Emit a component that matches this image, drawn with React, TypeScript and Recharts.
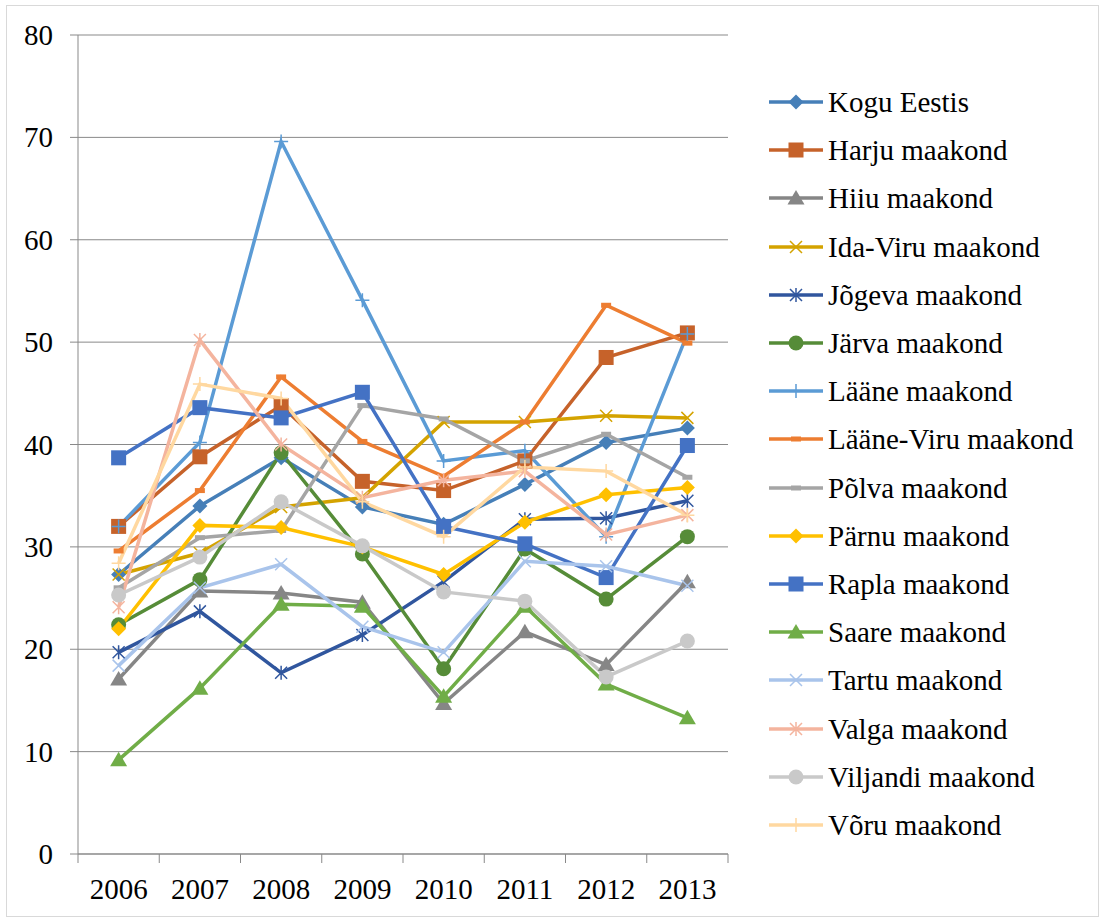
import React from 'react';
import { LineChart, Line, XAxis, YAxis, CartesianGrid } from 'recharts';

const years = ['2006', '2007', '2008', '2009', '2010', '2011', '2012', '2013'];
const yTicks = [0, 10, 20, 30, 40, 50, 60, 70, 80];

const koguEestis = [27.3, 34.0, 38.7, 33.9, 32.2, 36.1, 40.2, 41.6];
const harju = [32.0, 38.8, 43.8, 36.4, 35.5, 38.4, 48.5, 50.9];
const hiiu = [17.1, 25.7, 25.5, 24.6, 14.7, 21.7, 18.5, 26.6];
const idaViru = [27.3, 29.4, 33.9, 34.8, 42.2, 42.2, 42.8, 42.6];
const jogeva = [19.7, 23.7, 17.7, 21.4, 26.6, 32.7, 32.8, 34.5];
const jarva = [22.4, 26.8, 39.2, 29.3, 18.1, 29.8, 24.9, 31.0];
const laane = [32.0, 40.2, 69.6, 54.1, 38.4, 39.4, 31.0, 50.8];
const laaneViru = [29.6, 35.5, 46.6, 40.3, 36.9, 42.2, 53.6, 49.9];
const polva = [26.0, 30.9, 31.6, 43.8, 42.5, 38.4, 41.0, 36.8];
const parnu = [22.0, 32.1, 31.9, 30.0, 27.3, 32.4, 35.1, 35.8];
const rapla = [38.7, 43.6, 42.6, 45.1, 32.0, 30.3, 27.0, 39.9];
const saare = [9.2, 16.2, 24.4, 24.2, 15.4, 24.2, 16.6, 13.3];
const tartu = [18.4, 26.0, 28.3, 22.2, 19.7, 28.6, 28.1, 26.2];
const valga = [24.1, 50.2, 40.0, 34.8, 36.5, 37.4, 31.2, 33.1];
const viljandi = [25.3, 29.0, 34.4, 30.1, 25.6, 24.7, 17.3, 20.8];
const voru = [28.4, 45.9, 44.5, 34.4, 31.0, 37.8, 37.4, 33.1];

type Shape = 'diamond' | 'square' | 'triangle' | 'x' | 'star' | 'circle' | 'plus' | 'dash';

const series: { name: string; values: number[]; color: string; shape: Shape }[] = [
  { name: 'Kogu Eestis', values: koguEestis, color: '#467fb8', shape: 'diamond' },
  { name: 'Harju maakond', values: harju, color: '#c6622a', shape: 'square' },
  { name: 'Hiiu maakond', values: hiiu, color: '#868686', shape: 'triangle' },
  { name: 'Ida-Viru maakond', values: idaViru, color: '#d4a300', shape: 'x' },
  { name: 'Jõgeva maakond', values: jogeva, color: '#30569e', shape: 'star' },
  { name: 'Järva maakond', values: jarva, color: '#568c38', shape: 'circle' },
  { name: 'Lääne maakond', values: laane, color: '#5b9bd5', shape: 'plus' },
  { name: 'Lääne-Viru maakond', values: laaneViru, color: '#ed7d31', shape: 'dash' },
  { name: 'Põlva maakond', values: polva, color: '#a5a5a5', shape: 'dash' },
  { name: 'Pärnu maakond', values: parnu, color: '#ffc000', shape: 'diamond' },
  { name: 'Rapla maakond', values: rapla, color: '#4472c4', shape: 'square' },
  { name: 'Saare maakond', values: saare, color: '#70ad47', shape: 'triangle' },
  { name: 'Tartu maakond', values: tartu, color: '#a9c4eb', shape: 'x' },
  { name: 'Valga maakond', values: valga, color: '#f4b49e', shape: 'star' },
  { name: 'Viljandi maakond', values: viljandi, color: '#c9c9c9', shape: 'circle' },
  { name: 'Võru maakond', values: voru, color: '#ffd8a0', shape: 'plus' },
];

const data = years.map((year, i) => {
  const row: Record<string, string | number> = { year };
  series.forEach((s) => {
    row[s.name] = s.values[i];
  });
  return row;
});

const FONT = 'Liberation Serif';
const AXIS = '#898989';
const HALF_BAND = 650 / 16;

function Marker({ shape, color, cx, cy }: { shape: Shape; color: string; cx: number; cy: number }) {
  switch (shape) {
    case 'diamond':
      return <path d={`M${cx},${cy - 7.5}L${cx + 7.5},${cy}L${cx},${cy + 7.5}L${cx - 7.5},${cy}Z`} fill={color} />;
    case 'square':
      return <rect x={cx - 7.5} y={cy - 7.5} width={15} height={15} fill={color} />;
    case 'triangle':
      return <path d={`M${cx},${cy - 8}L${cx + 8.5},${cy + 6.5}L${cx - 8.5},${cy + 6.5}Z`} fill={color} />;
    case 'circle':
      return <circle cx={cx} cy={cy} r={7.5} fill={color} />;
    case 'x':
      return (
        <path d={`M${cx - 6},${cy - 6}L${cx + 6},${cy + 6}M${cx - 6},${cy + 6}L${cx + 6},${cy - 6}`} stroke={color} strokeWidth={1.5} fill="none" />
      );
    case 'star':
      return (
        <path
          d={`M${cx - 6},${cy - 6}L${cx + 6},${cy + 6}M${cx - 6},${cy + 6}L${cx + 6},${cy - 6}M${cx},${cy - 7}L${cx},${cy + 7}`}
          stroke={color}
          strokeWidth={1.5}
          fill="none"
        />
      );
    case 'plus':
      return <path d={`M${cx - 7},${cy}L${cx + 7},${cy}M${cx},${cy - 7}L${cx},${cy + 7}`} stroke={color} strokeWidth={1.5} fill="none" />;
    case 'dash':
      return <rect x={cx - 5} y={cy - 2.5} width={10} height={5} fill={color} />;
  }
  return null;
}

function XTick(props: any) {
  const { x, y, payload, index } = props;
  const top = y - 9;
  return (
    <g>
      <line x1={x - HALF_BAND} x2={x - HALF_BAND} y1={top} y2={y} stroke={AXIS} />
      {index === years.length - 1 && <line x1={x + HALF_BAND} x2={x + HALF_BAND} y1={top} y2={y} stroke={AXIS} />}
      <text x={x} y={y + 36} textAnchor="middle" fontFamily={FONT} fontSize={29} fill="#000">
        {payload.value}
      </text>
    </g>
  );
}

function YTick(props: any) {
  const { x, y, payload } = props;
  return (
    <text x={x} y={y} dy={10} textAnchor="end" fontFamily={FONT} fontSize={29} fill="#000">
      {payload.value}
    </text>
  );
}

export default function App() {
  return (
    <div style={{ position: 'absolute', left: 0, top: 0, width: 1101, height: 920, background: '#fff', fontFamily: FONT }}>
      <div
        style={{
          position: 'absolute',
          left: 6,
          top: 5,
          width: 1093,
          height: 912,
          border: '1px solid #d9d9d9',
          boxSizing: 'border-box',
        }}
      />
      <LineChart width={1101} height={920} data={data} margin={{ top: 35, right: 373, bottom: 0, left: 0 }} style={{ position: 'absolute', left: 0, top: 0 }}>
        <CartesianGrid vertical={false} stroke={AXIS} />
        <XAxis
          dataKey="year"
          height={66}
          padding={{ left: HALF_BAND, right: HALF_BAND }}
          axisLine={{ stroke: AXIS }}
          tickLine={false}
          tickSize={9}
          tickMargin={0}
          interval={0}
          tick={<XTick />}
        />
        <YAxis
          width={78}
          domain={[0, 80]}
          ticks={yTicks}
          interval={0}
          axisLine={{ stroke: AXIS }}
          tickLine={{ stroke: AXIS }}
          tickSize={8}
          tickMargin={17}
          tick={<YTick />}
        />
        {series.map((s) => (
          <Line
            key={s.name}
            dataKey={s.name}
            stroke={s.color}
            strokeWidth={3.5}
            type="linear"
            isAnimationActive={false}
            activeDot={false}
            dot={(p: any) => <Marker key={`${s.name}-${p.index}`} shape={s.shape} color={s.color} cx={p.cx} cy={p.cy} />}
          />
        ))}
      </LineChart>
      {series.map((s, i) => (
        <div
          key={s.name}
          style={{
            position: 'absolute',
            left: 768,
            top: 102 + i * 48.2 - 17,
            height: 34,
            display: 'flex',
            alignItems: 'center',
            whiteSpace: 'nowrap',
          }}
        >
          <svg width={56} height={20} style={{ display: 'block' }}>
            <line x1={1} x2={55} y1={10} y2={10} stroke={s.color} strokeWidth={3.5} />
            <Marker shape={s.shape} color={s.color} cx={28} cy={10} />
          </svg>
          <span style={{ marginLeft: 4, fontSize: 29, color: '#000', lineHeight: '34px' }}>{s.name}</span>
        </div>
      ))}
    </div>
  );
}
